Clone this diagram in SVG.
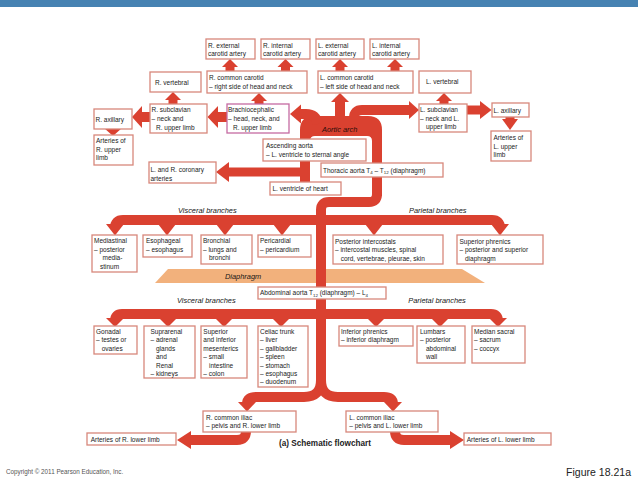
<svg xmlns="http://www.w3.org/2000/svg" width="638" height="479" viewBox="0 0 638 479">
<style>
.box{fill:#fff;stroke:#d8877b;stroke-width:1.3}
.bc{stroke:#c56aa2}
.t{font-family:"Liberation Sans",Arial,sans-serif;font-size:6.5px;fill:#222}
.sub{font-size:4.4px}
.lbl{font-family:"Liberation Sans",Arial,sans-serif;font-size:7.4px;font-style:italic;fill:#151515}
.band{fill:none;stroke:#da4130;stroke-width:10}
.band9{fill:none;stroke:#da4130;stroke-width:9}
.head{fill:#da4130}
</style>
<rect x="0" y="0" width="638" height="7" fill="#4682b2"/>
<polygon points="168,269 462,269 485,283 155,283" fill="#f2b17c"/>
<g id="connectors">
  <path class="head" d="M300 184 L300 130 Q300 116 314 116 L368 116 Q382 116 382 130 L382 196 L372 196 L372 141 Q372 136 367 136 L315 136 Q310 136 310 141 L310 184 Z"/>
  <path class="band" d="M318 124 Q316 114 306 114 L300 114"/>
  <polygon class="head" points="301,104.5 301,123.5 290,114"/>
  <path class="band" d="M340 118 L340 101"/>
  <polygon class="head" points="331,102 349,102 340,93"/>
  <path class="band" d="M354 122 L354 118 Q354 110 362 110 L410 110"/>
  <polygon class="head" points="409,101 409,119 419,110"/>
  <path class="band9" d="M444 105 L444 100"/><polygon class="head" points="436,101 452,101 444,93"/>
  <path class="band9" d="M259 105 L259 100"/><polygon class="head" points="251,101 267,101 259,93"/>
  <path class="band9" d="M173 105 L173 99"/><polygon class="head" points="165,100 181,100 173,92"/>
  <path class="band9" d="M230 72 L230 66"/><polygon class="head" points="222,67 238,67 230,59"/>
  <path class="band9" d="M285.5 72 L285.5 66"/><polygon class="head" points="277.5,67 293.5,67 285.5,59"/>
  <path class="band9" d="M340 72 L340 66"/><polygon class="head" points="332,67 348,67 340,59"/>
  <path class="band9" d="M395 72 L395 66"/><polygon class="head" points="387,67 403,67 395,59"/>
  <path class="band" d="M228 117 L217 117"/><polygon class="head" points="218,106 218,128 207.5,117"/>
  <path class="band" d="M151 117 L141 117"/><polygon class="head" points="142,106 142,128 132,117"/>
  <path class="band9" d="M466 110 L481 110"/><polygon class="head" points="480,101 480,119 491.5,110"/>
  <path class="band9" d="M113 126 L113 129"/><polygon class="head" points="104,128 122,128 113,136"/>
  <path class="band9" d="M510 116 L510 120"/><polygon class="head" points="502,119 518,119 510,130"/>
  <path class="band9" d="M301 172 L228 172"/><polygon class="head" points="229,162 229,182 216,172"/>
  <path class="band" d="M377 190 L377 194 Q377 202 369 202 L329 202 Q321 202 321 210 L321 392"/>
  <path class="band" d="M115 228 Q115 220 123 220 L492 220 Q500 220 500 228"/>
  <polygon class="head" points="106,224 124,224 115,235.5"/>
  <polygon class="head" points="158,224 176,224 167,235.5"/>
  <polygon class="head" points="216,224 234,224 225,235.5"/>
  <polygon class="head" points="273,224 291,224 282,235.5"/>
  <polygon class="head" points="365,224 383,224 374,235.5"/>
  <polygon class="head" points="491,224 509,224 500,235.5"/>
  <path class="band" d="M115 321 Q115 314 122 314 L491 314 Q498 314 498 321"/>
  <polygon class="head" points="106,318 124,318 115,327"/>
  <polygon class="head" points="159,318 177,318 168,327"/>
  <polygon class="head" points="215,318 233,318 224,327"/>
  <polygon class="head" points="272,318 290,318 281,327"/>
  <polygon class="head" points="367,318 385,318 376,327"/>
  <polygon class="head" points="431,318 449,318 440,327"/>
  <polygon class="head" points="489,318 507,318 498,327"/>
  <path class="band" d="M321 380 Q321 397 304 397 L256 397 Q247 397 247 404"/>
  <polygon class="head" points="238,402 256,402 247,411.5"/>
  <path class="band" d="M321 380 Q321 397 338 397 L384 397 Q393 397 393 404"/>
  <polygon class="head" points="384,402 402,402 393,411.5"/>
  <path class="band" d="M246 431 Q246 440 237 440 L190 440"/>
  <polygon class="head" points="191,431 191,449 177,440"/>
  <path class="band" d="M395 431 Q395 440 404 440 L451 440"/>
  <polygon class="head" points="450,431 450,449 464,440"/>
</g>
<g id="nodes">
  <g id="n-rext"><rect class="box" x="206" y="39" width="49" height="20"/><text class="t"><tspan x="208" y="48">R. external</tspan><tspan x="208" y="56.3">carotid artery</tspan></text></g>
  <g id="n-rint"><rect class="box" x="261" y="39" width="49" height="20"/><text class="t"><tspan x="263" y="48">R. internal</tspan><tspan x="263" y="56.3">carotid artery</tspan></text></g>
  <g id="n-lext"><rect class="box" x="316" y="39" width="48" height="20"/><text class="t"><tspan x="318" y="48">L. external</tspan><tspan x="318" y="56.3">carotid artery</tspan></text></g>
  <g id="n-lint"><rect class="box" x="370" y="39" width="49" height="20"/><text class="t"><tspan x="372" y="48">L. internal</tspan><tspan x="372" y="56.3">carotid artery</tspan></text></g>
  <g id="n-rvert"><rect class="box" x="150" y="72" width="51" height="20"/><text class="t" x="155" y="85">R. vertebral</text></g>
  <g id="n-rcc"><rect class="box" x="207" y="71" width="100" height="22"/><text class="t"><tspan x="209" y="80">R. common carotid</tspan><tspan x="209" y="89">– right side of head and neck</tspan></text></g>
  <g id="n-lcc"><rect class="box" x="318" y="71" width="95" height="22"/><text class="t"><tspan x="320" y="80">L. common carotid</tspan><tspan x="320" y="89">– left side of head and neck</tspan></text></g>
  <g id="n-lvert"><rect class="box" x="419" y="71" width="52" height="22"/><text class="t" x="426" y="84">L. vertebral</text></g>
  <g id="n-rax"><rect class="box" x="94" y="109" width="38" height="20"/><text class="t" x="95.5" y="121.5">R. axillary</text></g>
  <g id="n-rsub"><rect class="box" x="150" y="104" width="57" height="29"/><text class="t"><tspan x="151.5" y="112.3">R. subclavian</tspan><tspan x="151.5" y="121">– neck and</tspan><tspan x="156" y="129.6">R. upper limb</tspan></text></g>
  <g id="n-brachio"><rect class="box bc" x="227" y="104" width="62" height="29"/><text class="t"><tspan x="228" y="112.3">Brachiocephalic</tspan><tspan x="228" y="121">– head, neck, and</tspan><tspan x="233" y="129.6">R. upper limb</tspan></text></g>
  <g id="n-lsub"><rect class="box" x="419" y="104" width="48" height="28"/><text class="t"><tspan x="420" y="112.3">L. subclavian</tspan><tspan x="420" y="121">– neck and L.</tspan><tspan x="426" y="129.3">upper limb</tspan></text></g>
  <g id="n-lax"><rect class="box" x="492" y="103" width="37" height="14"/><text class="t" x="493.5" y="112.8">L. axillary</text></g>
  <g id="n-rarm"><rect class="box" x="94" y="135" width="39" height="30"/><text class="t"><tspan x="96" y="143">Arteries of</tspan><tspan x="96" y="151.5">R. upper</tspan><tspan x="96" y="160">limb</tspan></text></g>
  <g id="n-larm"><rect class="box" x="491" y="131" width="40" height="30"/><text class="t"><tspan x="493.5" y="139.5">Arteries of</tspan><tspan x="493.5" y="148.5">L. upper</tspan><tspan x="493.5" y="157">limb</tspan></text></g>
  <g id="n-asc"><rect class="box" x="263" y="139" width="103" height="22"/><text class="t"><tspan x="266" y="148">Ascending aorta</tspan><tspan x="266" y="157.2">– L. ventricle to sternal angle</tspan></text></g>
  <g id="n-cor"><rect class="box" x="149" y="162" width="67" height="21"/><text class="t"><tspan x="150.5" y="171.5">L. and R. coronary</tspan><tspan x="150.5" y="180.5">arteries</tspan></text></g>
  <g id="n-thor"><rect class="box" x="321" y="163" width="122" height="14"/><text class="t" x="323" y="172.8">Thoracic aorta T<tspan class="sub" dy="1.5">4</tspan><tspan dy="-1.5"> – T</tspan><tspan class="sub" dy="1.5">12</tspan><tspan dy="-1.5"> (diaphragm)</tspan></text></g>
  <g id="n-lv"><rect class="box" x="270" y="182" width="71" height="13"/><text class="t" x="272.5" y="191.3">L. ventricle of heart</text></g>
  <g id="n-med"><rect class="box" x="92" y="235" width="45" height="37"/><text class="t"><tspan x="94" y="243.3">Mediastinal</tspan><tspan x="94" y="251.8">– posterior</tspan><tspan x="102.5" y="260.3">media-</tspan><tspan x="100" y="268.8">stinum</tspan></text></g>
  <g id="n-eso"><rect class="box" x="143" y="235" width="49" height="22"/><text class="t"><tspan x="146" y="243.3">Esophageal</tspan><tspan x="146" y="251.8">– esophagus</tspan></text></g>
  <g id="n-bron"><rect class="box" x="201" y="235" width="51" height="29"/><text class="t"><tspan x="203" y="243.3">Bronchial</tspan><tspan x="203" y="251.8">– lungs and</tspan><tspan x="209" y="260.3">bronchi</tspan></text></g>
  <g id="n-peri"><rect class="box" x="258" y="235" width="53" height="22"/><text class="t"><tspan x="260" y="243.3">Pericardial</tspan><tspan x="260" y="251.8">– pericardium</tspan></text></g>
  <g id="n-pint"><rect class="box" x="333" y="235" width="110" height="29"/><text class="t"><tspan x="335" y="243.6">Posterior intercostals</tspan><tspan x="335" y="252.1">– intercostal muscles, spinal</tspan><tspan x="340.7" y="260.8">cord, vertebrae, pleurae, skin</tspan></text></g>
  <g id="n-sphr"><rect class="box" x="457" y="235" width="86" height="29"/><text class="t"><tspan x="459.5" y="243.6">Superior phrenics</tspan><tspan x="459.5" y="252.1">– posterior and superior</tspan><tspan x="465" y="260.8">diaphragm</tspan></text></g>
  <g id="n-abd"><rect class="box" x="258" y="287" width="128" height="12"/><text class="t" x="260" y="295.2">Abdominal aorta T<tspan class="sub" dy="1.5">12</tspan><tspan dy="-1.5"> (diaphragm) – L</tspan><tspan class="sub" dy="1.5">4</tspan></text></g>
  <g id="n-gon"><rect class="box" x="94" y="326" width="43" height="28"/><text class="t"><tspan x="96" y="334">Gonadal</tspan><tspan x="96" y="342.4">– testes or</tspan><tspan x="101.7" y="350.8">ovaries</tspan></text></g>
  <g id="n-supra"><rect class="box" x="144" y="326" width="51" height="52"/><text class="t"><tspan x="150.5" y="334">Suprarenal</tspan><tspan x="150.5" y="342.4">– adrenal</tspan><tspan x="156" y="350.8">glands</tspan><tspan x="156" y="359.2">and</tspan><tspan x="156" y="367.6">Renal</tspan><tspan x="150.5" y="376">– kidneys</tspan></text></g>
  <g id="n-mes"><rect class="box" x="201" y="326" width="46" height="52"/><text class="t"><tspan x="203.3" y="334">Superior</tspan><tspan x="203.3" y="342.4">and inferior</tspan><tspan x="203.3" y="350.8">mesenterics</tspan><tspan x="203.3" y="359.2">– small</tspan><tspan x="209" y="367.6">intestine</tspan><tspan x="203.3" y="376">– colon</tspan></text></g>
  <g id="n-cel"><rect class="box" x="258" y="326" width="50" height="61"/><text class="t"><tspan x="260" y="334">Celiac trunk</tspan><tspan x="260" y="342.4">– liver</tspan><tspan x="260" y="350.8">– gallbladder</tspan><tspan x="260" y="359.2">– spleen</tspan><tspan x="260" y="367.6">– stomach</tspan><tspan x="260" y="376">– esophagus</tspan><tspan x="260" y="384.4">– duodenum</tspan></text></g>
  <g id="n-iphr"><rect class="box" x="339" y="326" width="74" height="20"/><text class="t"><tspan x="341" y="334">Inferior phrenics</tspan><tspan x="341" y="342.4">– inferior diaphragm</tspan></text></g>
  <g id="n-lum"><rect class="box" x="417" y="326" width="48" height="37"/><text class="t"><tspan x="420" y="334">Lumbars</tspan><tspan x="420" y="342.4">– posterior</tspan><tspan x="426" y="350.8">abdominal</tspan><tspan x="426" y="359.2">wall</tspan></text></g>
  <g id="n-sac"><rect class="box" x="472" y="326" width="53" height="37"/><text class="t"><tspan x="474" y="334">Median sacral</tspan><tspan x="474" y="342.4">– sacrum</tspan><tspan x="474" y="350.8">– coccyx</tspan></text></g>
  <g id="n-rci"><rect class="box" x="203" y="411" width="93" height="21"/><text class="t"><tspan x="206" y="420">R. common iliac</tspan><tspan x="206" y="428.3">– pelvis and R. lower limb</tspan></text></g>
  <g id="n-lci"><rect class="box" x="346" y="411" width="92" height="21"/><text class="t"><tspan x="349.3" y="420">L. common iliac</tspan><tspan x="349.3" y="428.3">– pelvis and L. lower limb</tspan></text></g>
  <g id="n-rleg"><rect class="box" x="87" y="433" width="89" height="12"/><text class="t" x="90.7" y="441.5">Arteries of R. lower limb</text></g>
  <g id="n-lleg"><rect class="box" x="464" y="433" width="87" height="12"/><text class="t" x="466.7" y="441.5">Arteries of L. lower limb</text></g>
</g>
<g id="labels">
  <text class="lbl" x="322" y="131.5" style="fill:#2b0c08">Aortic arch</text>
  <text class="lbl" x="178" y="213.2">Visceral branches</text>
  <text class="lbl" x="409" y="212.6">Parietal branches</text>
  <text class="lbl" x="225" y="278.6">Diaphragm</text>
  <text class="lbl" x="177" y="303.2">Visceral branches</text>
  <text class="lbl" x="408.3" y="303.2">Parietal branches</text>
  <text x="279" y="446" font-family="Liberation Sans, Arial, sans-serif" font-size="8.2" font-weight="bold" fill="#222">(a) Schematic flowchart</text>
  <text x="6" y="474" font-family="Liberation Sans, Arial, sans-serif" font-size="6.3" fill="#555">Copyright © 2011 Pearson Education, Inc.</text>
  <text x="566" y="475.5" font-family="Liberation Sans, Arial, sans-serif" font-size="11" fill="#222" textLength="65" lengthAdjust="spacingAndGlyphs">Figure 18.21a</text>
</g>
</svg>
